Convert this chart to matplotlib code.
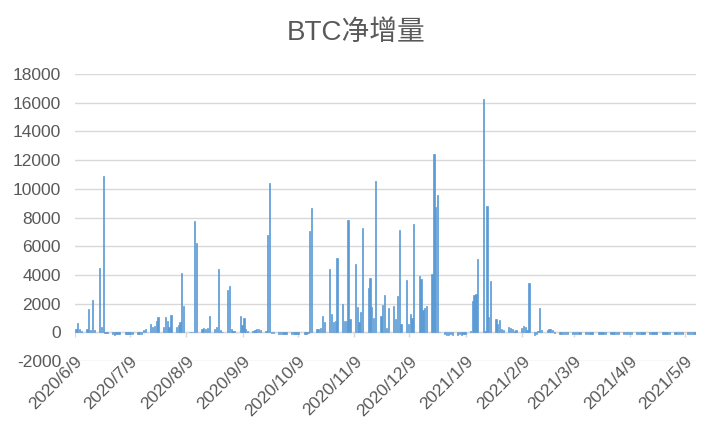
import matplotlib
matplotlib.use('Agg')
import matplotlib.pyplot as plt
import matplotlib.dates as mdates
import matplotlib.transforms as mtransforms
import pandas as pd

# ---------------- data ----------------
first_monday = '2020-06-08'
start_date = '2020-06-09'
end_date = '2021-05-14'

# BTC net increase, one row per week (Mon..Fri); weekends are empty
weekday_values = [
    [0, 250, 650, 200, 100],          # 6/8
    [250, 1600, 150, 2230, 150],      # 6/15
    [4450, 400, 10880, -80, -80],     # 6/22
    [-150, -160, -150, -150, -140],   # 6/29
    [-120, -110, -120, -100, -120],   # 7/6
    [-150, -140, -100, 150, 250],     # 7/13
    [580, 400, 450, 800, 1100],       # 7/20
    [350, 1100, 800, 350, 1230],      # 7/27
    [350, 500, 700, 4150, 1800],      # 8/3
    [0, 0, 0, 7740, 6230],            # 8/10
    [250, 300, 250, 300, 1140],       # 8/17
    [250, 350, 4440, 150, 0],         # 8/24
    [2980, 3200, 200, 100, 100],      # 8/31
    [1110, 500, 1000, 250, 100],      # 9/7
    [100, 150, 250, 250, 150],        # 9/14
    [100, 6770, 10420, -50, -80],     # 9/21
    [-100, -90, -100, -110, -100],    # 9/28
    [-100, -120, -100, -90, -110],    # 10/5
    [-100, -100, -50, 7090, 8640],    # 10/12
    [250, 250, 300, 1110, 720],       # 10/19
    [4390, 1250, 700, 800, 5200],     # 10/26
    [2000, 800, 800, 7810, 950],      # 11/2
    [4730, 1770, 720, 1420, 7250],    # 11/9
    [3120, 3810, 1770, 1000, 10530],  # 11/16
    [1140, 1880, 2580, 300, 1700],    # 11/23
    [1800, 950, 2500, 7160, 600],     # 11/30
    [3620, 550, 1300, 1000, 7580],    # 12/7
    [3900, 3700, 1550, 1700, 1800],   # 12/14
    [4090, 12400, 8740, 9600, 0],     # 12/21
    [-150, -180, -200, -150, -170],   # 12/28
    [-160, -150, -180, -150, -100],   # 1/4
    [100, 2160, 2600, 2650, 5140],    # 1/11
    [16230, 100, 8790, 1070, 3560],   # 1/18
    [950, 600, 880, 250, 150],        # 1/25
    [370, 300, 200, 100, 150],        # 2/1
    [330, 460, 370, 150, 3460],       # 2/8
    [-200, -150, 100, 1700, 150],     # 2/15
    [150, 200, 200, 150, -50],        # 2/22
    [-100, -110, -100, -120, -100],   # 3/1
    [-110, -100, -120, -100, -110],   # 3/8
    [-100, -120, -100, -110, -100],   # 3/15
    [-120, -100, -110, -100, -120],   # 3/22
    [-100, -110, -100, -120, -100],   # 3/29
    [-110, -100, -120, -100, -110],   # 4/5
    [-100, -120, -100, -110, -100],   # 4/12
    [-120, -100, -110, -100, -120],   # 4/19
    [-100, -110, -100, -120, -100],   # 4/26
    [-110, -100, -120, -100, -110],   # 5/3
    [-100, -120, -100, -110, -100],   # 5/10
]

tick_dates = ['2020-06-09', '2020-07-09', '2020-08-09', '2020-09-09',
              '2020-10-09', '2020-11-09', '2020-12-09', '2021-01-09',
              '2021-02-09', '2021-03-09', '2021-04-09', '2021-05-09']
tick_labels = ['2020/6/9', '2020/7/9', '2020/8/9', '2020/9/9',
               '2020/10/9', '2020/11/9', '2020/12/9', '2021/1/9',
               '2021/2/9', '2021/3/9', '2021/4/9', '2021/5/9']
y_ticks = [-2000, 0, 2000, 4000, 6000, 8000, 10000, 12000, 14000, 16000, 18000]
title = 'BTC净增量'

# ---------------- build daily series ----------------
dates, vals = [], []
mondays = pd.date_range(first_monday, periods=len(weekday_values), freq='7D')
t0, t1 = pd.Timestamp(start_date), pd.Timestamp(end_date)
for mon, week in zip(mondays, weekday_values):
    for i, v in enumerate(week):
        d = mon + pd.Timedelta(days=i)
        if t0 <= d <= t1:
            dates.append(d)
            vals.append(v)

# ---------------- figure ----------------
TXT = '#595959'
GRID = '#d9d9d9'
BLUE = '#5B9BD5'
FAM = ['Liberation Sans', 'Noto Sans CJK SC', 'DejaVu Sans']
plt.rcParams['font.family'] = FAM

W, H = 712, 426
fig = plt.figure(figsize=(W / 100, H / 100), dpi=100)
ax = fig.add_axes([75 / W, 65 / H, 621 / W, 287 / H])

xnum = mdates.date2num(pd.DatetimeIndex(dates)) + 0.5
ax.bar(xnum, vals, width=0.7, color=BLUE, edgecolor=BLUE, linewidth=0.5,
       zorder=3)

ax.set_xlim(mdates.date2num(t0), mdates.date2num(t1) + 1)
ax.set_ylim(-2000, 18000)

ax.set_yticks(y_ticks)
ax.set_yticklabels([str(v) for v in y_ticks])
ax.yaxis.grid(True, color=GRID, linewidth=1.0, zorder=0)
ax.set_axisbelow(True)
ax.tick_params(axis='y', length=0, pad=10, labelsize=12.5, labelcolor=TXT)

# zero axis line with small month ticks
ax.axhline(0, color=GRID, linewidth=1.0, zorder=2)
tnum = mdates.date2num(pd.DatetimeIndex(tick_dates))
ax.vlines(tnum, -330, 0, color=GRID, linewidth=1.0, zorder=2)

ax.set_xticks(tnum)
ax.set_xticklabels(tick_labels)
ax.tick_params(axis='x', length=0, pad=0, labelsize=12.5, labelcolor=TXT)
offset = mtransforms.ScaledTranslation(5 / 100, 2 / 100, fig.dpi_scale_trans)
for lab in ax.get_xticklabels():
    lab.set_rotation(45)
    lab.set_ha('right')
    lab.set_va('center')
    lab.set_rotation_mode('anchor')
    lab.set_transform(lab.get_transform() + offset)

for s in ax.spines.values():
    s.set_visible(False)

fig.text(0.5, 1 - 33 / H, title, ha='center', va='center',
         fontsize=20, color=TXT, family=FAM)

fig.savefig('out.png', dpi=100, facecolor='white')
